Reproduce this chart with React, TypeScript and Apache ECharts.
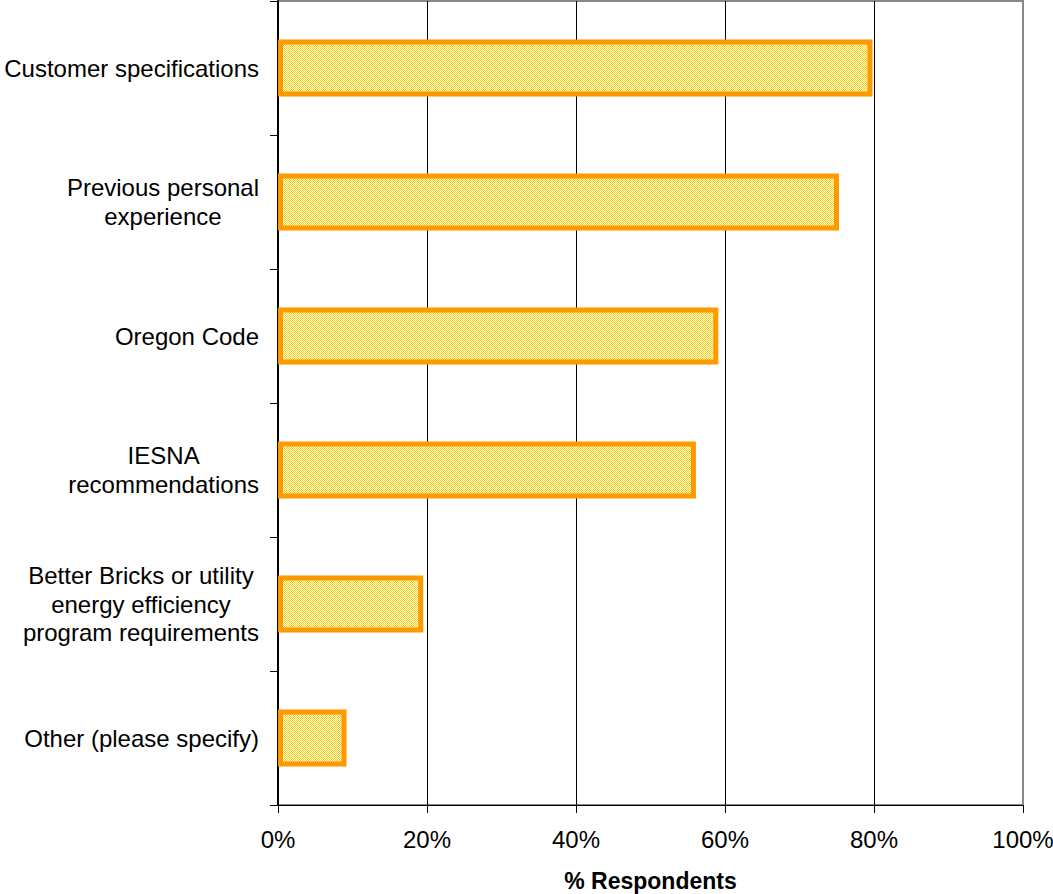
import React, { useEffect, useRef } from "react";
import * as echarts from "echarts";

const categories = [
  "Customer specifications",
  "Previous personal\nexperience",
  "Oregon Code",
  "IESNA\nrecommendations",
  "Better Bricks or utility\nenergy efficiency\nprogram requirements",
  "Other (please specify)",
];
const values = [79.8, 75.3, 59.1, 56.1, 19.5, 9.2];
const xTicks = [0, 20, 40, 60, 80, 100];

const FONT = "'Liberation Sans', Arial, Helvetica, sans-serif";

// One-pixel yellow/white checker used as the bar fill
function makeChecker(): HTMLCanvasElement {
  const c = document.createElement("canvas");
  c.width = 2;
  c.height = 2;
  const ctx = c.getContext("2d")!;
  ctx.fillStyle = "#ffffff";
  ctx.fillRect(0, 0, 2, 2);
  ctx.fillStyle = "#ffcc00";
  ctx.fillRect(0, 0, 1, 1);
  ctx.fillRect(1, 1, 1, 1);
  return c;
}

export default function App() {
  const ref = useRef<HTMLDivElement>(null);
  useEffect(() => {
    document.body.style.margin = "0";
    const chart = echarts.init(ref.current!, null, { renderer: "svg" });
    chart.setOption({
      animation: false,
      backgroundColor: "#ffffff",
      grid: {
        left: 278,
        right: 30,
        top: 1,
        bottom: 89,
        outerBoundsMode: "none",
        containLabel: false,
        show: true,
        borderColor: "#888888",
        borderWidth: 2,
        backgroundColor: "transparent",
      },
      xAxis: {
        type: "value",
        min: 0,
        max: 100,
        interval: 20,
        axisLine: { show: true, lineStyle: { color: "#000", width: 1 } },
        axisTick: { show: true, length: 8, lineStyle: { color: "#000" } },
        splitLine: {
          show: true,
          lineStyle: {
            color: ["#000", "#000", "#000", "#000", "#000", "#888"],
            width: 1,
          },
        },
        axisLabel: {
          formatter: (v: number) => (xTicks.includes(v) ? `${v}%` : ""),
          color: "#000",
          fontFamily: FONT,
          fontSize: 24,
          margin: 22,
        },
        name: "% Respondents",
        nameLocation: "middle",
        nameGap: 64,
        nameTextStyle: {
          color: "#000",
          fontFamily: FONT,
          fontSize: 23,
          fontWeight: "bold",
        },
      },
      yAxis: {
        type: "category",
        data: categories,
        inverse: true,
        axisLine: { show: true, lineStyle: { color: "#000", width: 2 } },
        axisTick: { show: true, length: 8, lineStyle: { color: "#000" } },
        splitLine: { show: false },
        axisLabel: {
          margin: 19,
          align: "right",
          color: "#000",
          fontFamily: FONT,
          fontSize: 24,
          lineHeight: 28.5,
          formatter: (v: string) =>
            v
              .split("\n")
              .map((l) => `{c|${l}}`)
              .join("\n"),
          rich: {
            c: {
              align: "center",
              color: "#000",
              fontFamily: FONT,
              fontSize: 24,
              lineHeight: 28.5,
            },
          },
        },
      },
      series: [
        {
          type: "bar",
          data: values,
          barWidth: 57,
          itemStyle: {
            color: { image: makeChecker(), repeat: "repeat" },
            borderColor: "#ff9900",
            borderWidth: 5,
          },
        },
      ],
    });
    return () => chart.dispose();
  }, []);
  return <div ref={ref} style={{ width: 1053, height: 894 }} />;
}
